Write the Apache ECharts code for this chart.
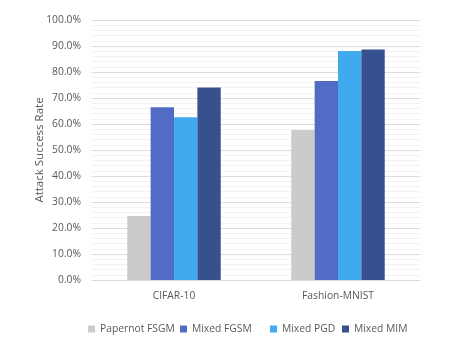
<!DOCTYPE html>
<html><head><meta charset="utf-8">
<script src="https://cdn.jsdelivr.net/npm/echarts@6/dist/echarts.min.js"></script>
<style>html,body{margin:0;padding:0;background:#fff}#c{width:466px;height:343px}</style>
</head><body><div id="c"></div>
<script>
const categories = ['CIFAR-10', 'Fashion-MNIST'];
const seriesNames = ['Papernot FSGM', 'Mixed FGSM', 'Mixed PGD', 'Mixed MIM'];
const papernotFSGM = [24.6, 57.7];
const mixedFGSM = [66.4, 76.5];
const mixedPGD = [62.6, 88.1];
const mixedMIM = [74.0, 88.7];
const colors = ['#cbcbcb', '#516cc4', '#3fabee', '#37518f'];
const values = [papernotFSGM, mixedFGSM, mixedPGD, mixedMIM];
const legendLeft = [88, 180, 270, 342];
const font = '"Open Sans", sans-serif';
const chart = echarts.init(document.getElementById('c'));
chart.setOption({
  animation: false,
  textStyle: { fontFamily: font },
  grid: { left: 92, right: 46, top: 20, bottom: 63 },
  legend: seriesNames.map((n, i) => ({
    bottom: 9, left: legendLeft[i], padding: 0, itemWidth: 7, itemHeight: 7,
    icon: 'rect',
    textStyle: { fontSize: 10.3, color: '#595959', fontFamily: font },
    data: [n]
  })),
  xAxis: {
    type: 'category', data: categories,
    axisLine: { lineStyle: { color: '#d9d9d9' } },
    axisTick: { show: false },
    axisLabel: { fontSize: 10.3, color: '#595959', margin: 11 }
  },
  yAxis: {
    type: 'value', min: 0, max: 100, interval: 10,
    name: 'Attack Success Rate', nameLocation: 'middle', nameGap: 46,
    nameMoveOverlap: false,
    nameTextStyle: { fontSize: 11.5, color: '#595959' },
    axisLabel: { fontSize: 10.3, color: '#595959', margin: 11, formatter: v => v.toFixed(1) + '%' },
    axisLine: { show: false }, axisTick: { show: false },
    splitLine: { lineStyle: { color: '#dcdcdc' } },
    minorTick: { show: false, splitNumber: 5 },
    minorSplitLine: { show: true, lineStyle: { color: '#f3f3f3' } }
  },
  series: seriesNames.map((n, i) => ({
    name: n, type: 'bar', data: values[i],
    barGap: '0%', barCategoryGap: '43%',
    itemStyle: { color: colors[i] }
  }))
});
</script></body></html>
